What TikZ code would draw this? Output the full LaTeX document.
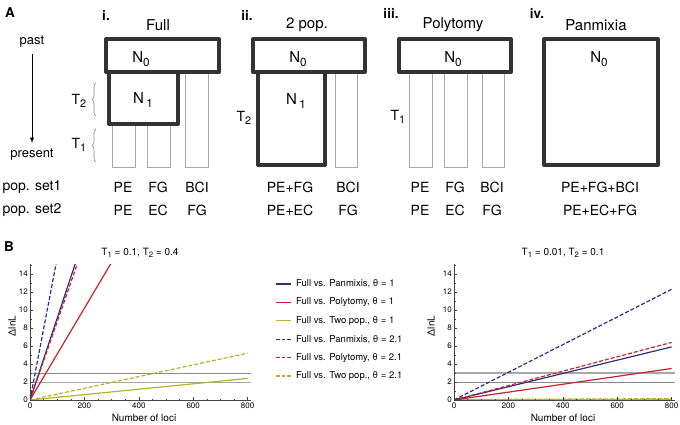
\documentclass[tikz,border=0pt]{standalone}
\usepackage{fontspec}
\setmainfont{TeX Gyre Heros}
\usetikzlibrary{positioning}
\usetikzlibrary{arrows}
\usetikzlibrary{decorations.pathreplacing}
\definecolor{boxgray}{HTML}{333333}
\definecolor{bargray}{HTML}{A8A8A8}
\definecolor{navy}{HTML}{2B2F84}
\definecolor{crim}{HTML}{C8232C}
\definecolor{olive}{HTML}{B5B32C}
\definecolor{refgray}{HTML}{8A8A8A}
\definecolor{axisgray}{HTML}{444444}
\newcommand{\lowsub}[1]{\raisebox{-0.45ex}{\scalebox{0.78}{#1}}}
\tikzset{
  popbox/.style={draw=boxgray,line width=4pt,fill=white,line join=round},
  thinbar/.style={draw=bargray,line width=0.8pt},
  panel/.style={font=\fontsize{15}{17}\selectfont,inner sep=1pt},
  poplbl/.style={font=\fontsize{14}{16}\selectfont,inner sep=1pt},
  tag/.style={font=\bfseries\fontsize{13.5}{15}\selectfont,inner sep=1pt},
  plotlbl/.style={font=\fontsize{10}{12}\selectfont,inner sep=1pt},
  ticklbl/.style={font=\fontsize{8}{9}\selectfont,inner sep=1pt},
  curve/.style={line width=1.2pt},
  dashcurve/.style={line width=1.2pt,dash pattern=on 4pt off 2pt},
  tbrace/.style={decorate,decoration={brace,amplitude=4pt},draw=refgray,line width=0.6pt},
}

\begin{document}
\begin{tikzpicture}[x=1pt,y=-1pt]
\useasboundingbox (0,0) rectangle (680,425);

% A: the four models
\node[tag] (tagA) at (10,13) {A};
\node[poplbl,font=\fontsize{13}{15}\selectfont] (past) at (32,42) {past};
\node[poplbl,font=\fontsize{13}{15}\selectfont] (present) at (32,155) {present};
\draw[-latex,line width=0.9pt,shorten <=5pt,shorten >=5pt] (past) -- (present);
\node[poplbl] (set1) at (32,187) {pop. set1};
\node[poplbl] (set2) at (32,210) {pop. set2};

% i. Full
\node[tag] (ti) at (106,15) {i.};
\node[panel] (full) at (158,25) {Full};
\draw[thinbar] (112,124) rectangle (135,167);
\draw[thinbar] (147,124) rectangle (170,167);
\draw[thinbar] (185,72) rectangle (208,167);
\draw[popbox] (109,72) rectangle (178,124);
\draw[popbox] (106,39) rectangle (219,72);
\node[panel] (n0i) at (141,59) {N\lowsub{0}};
\node[panel] (n1i) at (143,100) {N\,\lowsub{1}};
\draw[tbrace] (96,116) -- (96,83);
\draw[tbrace] (96,162) -- (96,129);
\node[poplbl] (t2i) at (79,101) {T\lowsub{2}};
\node[poplbl] (t1i) at (79,145) {T\lowsub{1}};
\node[poplbl] (i1a) at (123,187) {PE};
\node[poplbl] (i1b) at (158,187) {FG};
\node[poplbl] (i1c) at (197,187) {BCI};
\node[poplbl] (i2a) at (123,210) {PE};
\node[poplbl] (i2b) at (158,210) {EC};
\node[poplbl] (i2c) at (197,210) {FG};

% ii. 2 pop.
\node[tag] (tii) at (247,15) {ii.};
\node[panel] (twopop) at (307,25) {2 pop.};
\draw[thinbar] (335,72) rectangle (357,167);
\draw[popbox] (258,72) rectangle (325,165);
\draw[popbox] (253,39) rectangle (365,72);
\node[panel] (n0ii) at (298,59) {N\lowsub{0}};
\node[panel] (n1ii) at (296,101) {N\,\lowsub{1}};
\node[poplbl] (t2ii) at (244,118) {T\lowsub{2}};
\node[poplbl] (ii1a) at (290,187) {PE+FG};
\node[poplbl] (ii1b) at (348,187) {BCI};
\node[poplbl] (ii2a) at (290,210) {PE+EC};
\node[poplbl] (ii2b) at (348,210) {FG};

% iii. Polytomy
\node[tag] (tiii) at (391,13) {iii.};
\node[panel] (poly) at (453,25) {Polytomy};
\draw[thinbar] (409,72) rectangle (432,167);
\draw[thinbar] (444,72) rectangle (467,167);
\draw[thinbar] (482,72) rectangle (504,167);
\draw[popbox] (399,39) rectangle (511,72);
\node[panel] (n0iii) at (453,59) {N\lowsub{0}};
\node[poplbl] (t1iii) at (398,117) {T\lowsub{1}};
\node[poplbl] (iii1a) at (420,187) {PE};
\node[poplbl] (iii1b) at (455,187) {FG};
\node[poplbl] (iii1c) at (492,187) {BCI};
\node[poplbl] (iii2a) at (420,210) {PE};
\node[poplbl] (iii2b) at (455,210) {EC};
\node[poplbl] (iii2c) at (492,210) {FG};

% iv. Panmixia
\node[tag] (tiv) at (537,13) {iv.};
\node[panel] (panm) at (596,25) {Panmixia};
\draw[popbox] (544,39) rectangle (658,165);
\node[panel] (n0iv) at (599,59) {N\lowsub{0}};
\node[poplbl] (iv1) at (600,187) {PE+FG+BCI};
\node[poplbl] (iv2) at (600,210) {PE+EC+FG};

% B: likelihood differences
\node[tag] (tagB) at (9,247) {B};
\node[plotlbl] (titleL) at (140,253) {T\lowsub{1} = 0.1, T\lowsub{2} = 0.4};
\node[plotlbl] (titleR) at (563,253) {T\lowsub{1} = 0.01, T\lowsub{2} = 0.1};
\node[plotlbl,rotate=90] (dlL) at (12,326) {ΔlnL};
\node[plotlbl,rotate=90] (dlR) at (431,326) {ΔlnL};
\node[plotlbl] (locL) at (144,418) {Number of loci};
\node[plotlbl] (locR) at (563,418) {Number of loci};

\begin{scope}[shift={(30,400)},x=0.272pt,y=9pt]
\begin{scope}
\clip (0,-0.3) rectangle (812,15.1);
\draw[refgray,line width=0.8pt] (0,3) -- (812,3);
\draw[bargray,line width=1.5pt] (0,1.92) -- (812,1.92);
\draw[olive,curve] (0,0) -- (800,2.4);
\draw[olive,dashcurve] (0,0) -- (800,5.2);
\draw[crim,curve] (0,0) -- (800,40.8);
\draw[navy,curve] (0,0) -- (800,72.8);
\draw[navy,dashcurve] (0,0) -- (800,126.4);
\draw[crim,dashcurve] (0,0) -- (800,69.6);
\end{scope}
\draw[axisgray,line width=0.6pt] (0,15.1) -- (0,0) -- (812,0);
\foreach \y in {1,3,...,15}
  \draw[axisgray,line width=0.5pt] (0,\y) -- ++(1.5pt,0);
\foreach \y in {0,2,...,14} {
  \draw[axisgray,line width=0.5pt] (0,\y) -- ++(3pt,0);
  \node[ticklbl,left,xshift=-1pt] (lyL\y) at (0,\y) {\y};
}
\foreach \x in {50,100,...,800}
  \draw[axisgray,line width=0.5pt] (\x,0) -- ++(0,1.5pt);
\foreach \x in {0,200,...,800} {
  \draw[axisgray,line width=0.5pt] (\x,0) -- ++(0,3pt);
  \node[ticklbl,below,yshift=-1.5pt] (lxL\x) at (\x,0) {\x};
}
\end{scope}

\begin{scope}[shift={(454,400)},x=0.272pt,y=9pt]
\begin{scope}
\clip (0,-0.3) rectangle (812,15.1);
\draw[bargray,line width=1.5pt] (0,3) -- (812,3);
\draw[refgray,line width=0.8pt] (0,1.92) -- (812,1.92);
\draw[olive,curve] (0,0.03) -- (800,0.08);
\draw[olive,dashcurve] (0,0.05) -- (800,0.15);
\draw[crim,curve] (0,0) -- (800,3.5);
\draw[navy,curve] (0,0) -- (800,5.9);
\draw[crim,dashcurve] (0,0) -- (800,6.4);
\draw[navy,dashcurve] (0,0) -- (800,12.3);
\end{scope}
\draw[axisgray,line width=0.6pt] (0,15.1) -- (0,0) -- (812,0);
\foreach \y in {1,3,...,15}
  \draw[axisgray,line width=0.5pt] (0,\y) -- ++(1.5pt,0);
\foreach \y in {0,2,...,14} {
  \draw[axisgray,line width=0.5pt] (0,\y) -- ++(3pt,0);
  \node[ticklbl,left,xshift=-1pt] (lyR\y) at (0,\y) {\y};
}
\foreach \x in {50,100,...,800}
  \draw[axisgray,line width=0.5pt] (\x,0) -- ++(0,1.5pt);
\foreach \x in {0,200,...,800} {
  \draw[axisgray,line width=0.5pt] (\x,0) -- ++(0,3pt);
  \node[ticklbl,below,yshift=-1.5pt] (lxR\x) at (\x,0) {\x};
}
\end{scope}

% legend
\foreach \c/\t [count=\i from 0] in {navy/{Panmixis, θ = 1},crim/{Polytomy, θ = 1},olive/{Two pop., θ = 1}} {
  \draw[\c,line width=1.2pt] (276,284+18.4*\i) -- (291,284+18.4*\i);
  \node[plotlbl,font=\fontsize{9.5}{11}\selectfont,anchor=west] (legS\i) at (295,284+18.4*\i) {Full vs. \t};
}
\foreach \c/\t [count=\i from 3] in {navy/{Panmixis, θ = 2.1},crim/{Polytomy, θ = 2.1},olive/{Two pop., θ = 2.1}} {
  \draw[\c,line width=1.3pt,dash pattern=on 3.5pt off 2pt] (276,284+18.4*\i) -- (291.5,284+18.4*\i);
  \node[plotlbl,font=\fontsize{9.5}{11}\selectfont,anchor=west] (legD\i) at (295,284+18.4*\i) {Full vs. \t};
}
\end{tikzpicture}
\end{document}
